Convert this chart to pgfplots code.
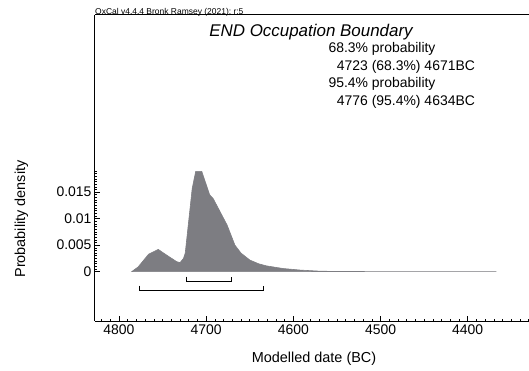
\documentclass[border=0pt]{standalone}
\usepackage{fontspec}
\setmainfont{Liberation Sans}
\usepackage{pgfplots}
\pgfplotsset{compat=1.18}
\definecolor{curvegray}{RGB}{125,125,130}
\begin{document}
\begin{tikzpicture}[x=1bp,y=1bp]
\useasboundingbox (0,0) rectangle (529,370);
\begin{axis}[
  at={(95bp,49bp)}, anchor=south west,
  scale only axis, width=434bp, height=306bp,
  x dir=reverse, xmin=4329.7, xmax=4827.5,
  ymin=-0.0093, ymax=0.0484,
  axis x line*=bottom, axis y line*=left,
  axis line style={line width=1bp, -},
  scaled y ticks=false, scaled x ticks=false,
  xtick={4400,4500,4600,4700,4800},
  xticklabels={4400,4500,4600,4700,4800},
  minor xtick={4330,4340,...,4820},
  ytick={0,0.005,0.01,0.015},
  yticklabels={0,0.005,0.01,0.015},
  minor ytick={0,0.0005,...,0.0191},
  tick align=inside,
  major tick length=5bp, minor tick length=2.5bp,
  every tick/.style={black, line width=0.6bp},
  ticklabel style={font=\fontsize{14}{16}\selectfont},
  /pgf/number format/assume math mode=true,
  clip=false,
]
\addplot[fill=curvegray, draw=curvegray, line width=0.6bp] coordinates {
 (4785.4,0) (4778,0.0009) (4766,0.0033) (4755,0.0042) (4745,0.0031)
 (4734,0.0019) (4730,0.0017) (4726,0.0025) (4724,0.0035) (4716,0.0157)
 (4712,0.0189) (4705,0.0189) (4696,0.0145) (4692,0.0138) (4684,0.0113)
 (4676,0.0088) (4667,0.0050) (4660,0.0035) (4650,0.0022) (4640,0.0015)
 (4631,0.0011) (4612,0.0006) (4592,0.0003) (4570,0.0001) (4548,0.00003)
 (4367,0)
} \closedcycle;
\addplot[black, line width=0.8bp] coordinates {
 (4723,-0.00094) (4723,-0.00189) (4671,-0.00189) (4671,-0.00094)
};
\addplot[black, line width=0.8bp] coordinates {
 (4776,-0.00265) (4776,-0.00359) (4634,-0.00359) (4634,-0.00265)
};
\draw[line width=1bp] (rel axis cs:0,1) -- (rel axis cs:1,1);
\end{axis}
\node[anchor=base west, inner sep=0, font=\fontsize{8.5}{10}\selectfont] at (95,356) {OxCal v4.4.4 Bronk Ramsey (2021); r:5};
\node[anchor=base, inner sep=0, font=\fontsize{17}{20}\selectfont\itshape] at (311,334) {END Occupation Boundary};
\node[anchor=base west, inner sep=0, font=\fontsize{14}{16}\selectfont] at (328.3,317.5) {68.3\% probability};
\node[anchor=base west, inner sep=0, font=\fontsize{14}{16}\selectfont] at (336.7,300) {4723 (68.3\%) 4671BC};
\node[anchor=base west, inner sep=0, font=\fontsize{14}{16}\selectfont] at (328.3,282.5) {95.4\% probability};
\node[anchor=base west, inner sep=0, font=\fontsize{14}{16}\selectfont] at (336.7,265) {4776 (95.4\%) 4634BC};
\node[anchor=base, inner sep=0, font=\fontsize{14.5}{16}\selectfont] at (314,8) {Modelled date (BC)};
\node[anchor=base, rotate=90, inner sep=0, font=\fontsize{14.5}{16}\selectfont] at (25,151) {Probability density};
\end{tikzpicture}
\end{document}
